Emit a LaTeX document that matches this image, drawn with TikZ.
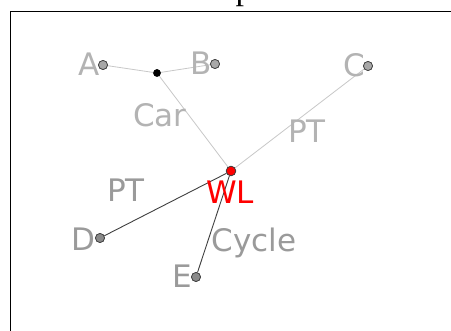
\documentclass[tikz,border=0pt]{standalone}
\usepackage{fontspec}
\setmainfont{DejaVu Sans}
\newfontfamily\titlefont{Liberation Serif}
\definecolor{lightlab}{HTML}{B3B3B3}
\definecolor{darklab}{HTML}{9A9A9A}
\definecolor{lightedge}{HTML}{C8C8C8}
\definecolor{darkedge}{HTML}{404040}
\definecolor{lightdot}{HTML}{A8A8A8}
\definecolor{darkdot}{HTML}{8A8A8A}
\begin{document}
\begin{tikzpicture}[x=1pt,y=-1pt,
  lab/.style={inner sep=0pt,font=\fontsize{31}{31}\selectfont},
  ldot/.style={circle,draw=darkedge,fill=lightdot,line width=0.7pt,minimum size=9pt,inner sep=0pt},
  ddot/.style={circle,draw=darkedge,fill=darkdot,line width=0.7pt,minimum size=9pt,inner sep=0pt},
  junc/.style={circle,fill=black,minimum size=7.5pt,inner sep=0pt},
  wl/.style={circle,draw=darkedge,fill=red,line width=0.7pt,minimum size=9.5pt,inner sep=0pt},
  ledge/.style={draw=lightedge,line width=0.8pt},
  dedge/.style={draw=darkedge,line width=0.9pt}]
\useasboundingbox (0,0) rectangle (451,331);
\fill[white] (0,0) rectangle (451,331);
\node[anchor=base,inner sep=0pt,font=\titlefont\fontsize{34}{34}\selectfont] (title) at (244,0) {p};
\draw[line width=0.9pt] (10,340) -- (10,11) -- (460,11);
% nodes
\node[ldot] (A) at (103,65) {};
\node[ldot] (B) at (215,64) {};
\node[junc] (J) at (157,73) {};
\node[ldot] (C) at (368,66) {};
\node[wl] (W) at (231,171) {};
\node[ddot] (D) at (100,238) {};
\node[ddot] (E) at (196,277) {};
% edges
\draw[ledge] (A) -- (J);
\draw[ledge] (B) -- (J);
\draw[ledge] (J) -- (W);
\draw[ledge] (C) -- (W);
\draw[dedge] (D) -- (W);
\draw[dedge] (E) -- (W);
% redraw dots on top
\node[ldot] at (A) {};
\node[ldot] at (B) {};
\node[junc] at (J) {};
\node[ldot] at (C) {};
\node[wl] at (W) {};
\node[ddot] at (D) {};
\node[ddot] at (E) {};
% labels
\node[lab,text=lightlab] (lA) at (89,64) {A};
\node[lab,text=lightlab] (lB) at (201,63) {B};
\node[lab,text=lightlab] (lC) at (354,65) {C};
\node[lab,text=lightlab] (lCar) at (160,115) {Car};
\node[lab,text=lightlab] (lPT1) at (307,131) {PT};
\node[lab,text=red] (lWL) at (230,192) {WL};
\node[lab,text=darklab] (lPT2) at (126,190) {PT};
\node[lab,text=darklab] (lD) at (83,239) {D};
\node[lab,text=darklab] (lCy) at (254,243) {Cycle};
\node[lab,text=darklab] (lE) at (182,276) {E};
\end{tikzpicture}
\end{document}
